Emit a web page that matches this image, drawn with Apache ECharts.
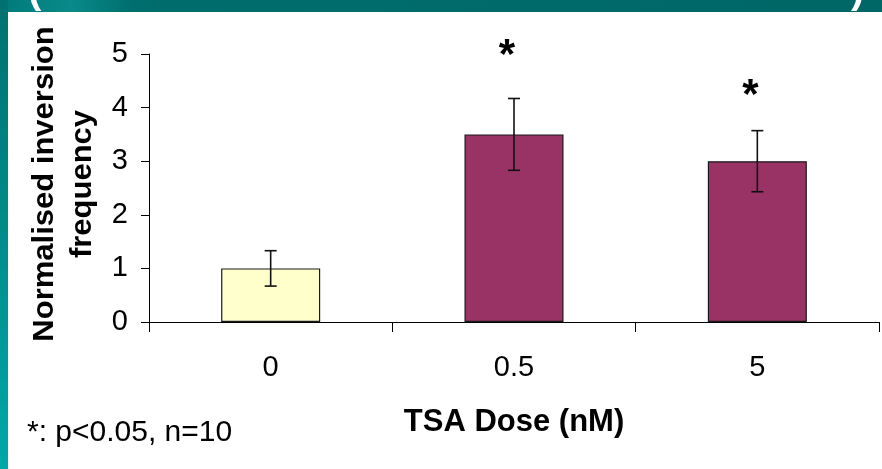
<!DOCTYPE html>
<html>
<head>
<meta charset="utf-8">
<script src="https://cdn.jsdelivr.net/npm/echarts@6/dist/echarts.min.js"></script>
<style>html,body{margin:0;padding:0;background:#fff;}#c{width:882px;height:469px;}</style>
</head>
<body>
<div id="c"></div>
<script>
const categories = ['0', '0.5', '5'];
const means = [1.0, 3.5, 3.0];
const errors = [0.33, 0.67, 0.57];
const sigY = [null, 5.1, 4.35];
const yTicks = [0, 1, 2, 3, 4, 5];
const barColors = ['#FFFFCC', '#993366', '#993366'];

const FONT = '"Liberation Sans", Arial, sans-serif';
const chart = echarts.init(document.getElementById('c'), null, {renderer: 'canvas'});

const errData = means.map((m, i) => [i, m - errors[i], m + errors[i]]);
const sigData = sigY.map((v, i) => [i, v]).filter(d => d[1] != null);

chart.setOption({
  animation: false,
  backgroundColor: '#ffffff',
  graphic: [
    {type: 'rect', z: -10, shape: {x: 0, y: 0, width: 882, height: 12},
     style: {fill: new echarts.graphic.LinearGradient(0, 0, 1, 0, [
       {offset: 0, color: '#007a7a'}, {offset: 0.08, color: '#0a8a8a'}, {offset: 0.15, color: '#006e6e'},
       {offset: 1, color: '#006666'}])}},
    {type: 'rect', z: -10, shape: {x: 0, y: 0, width: 8, height: 469},
     style: {fill: new echarts.graphic.LinearGradient(0, 0, 0, 1, [
       {offset: 0, color: '#007070'}, {offset: 1, color: '#00a8a8'}])}},
    {type: 'text', z: -9, x: 28, y: 12, style: {text: '(', fill: '#ffffff', font: 'bold 40px ' + FONT, textVerticalAlign: 'bottom'}},
    {type: 'text', z: -9, x: 851, y: 12, style: {text: ')', fill: '#ffffff', font: 'bold 40px ' + FONT, textVerticalAlign: 'bottom'}},
    {type: 'rect', z: -8, shape: {x: 8, y: 12, width: 874, height: 457}, style: {fill: '#ffffff'}},
    {type: 'text', x: 64, y: 184, rotation: Math.PI / 2, scaleY: 0.95,
     style: {text: 'Normalised inversion\nfrequency', fill: '#000', font: 'bold 31px ' + FONT,
             lineHeight: 40, textAlign: 'center', textVerticalAlign: 'middle'}},
    {type: 'text', x: 514, y: 422,
     style: {text: 'TSA Dose (nM)', fill: '#000', font: 'bold 31px ' + FONT,
             textAlign: 'center', textVerticalAlign: 'middle'}},
    {type: 'text', x: 27, y: 433,
     style: {text: '*: p<0.05, n=10', fill: '#000', font: '30px ' + FONT,
             textAlign: 'left', textVerticalAlign: 'middle'}}
  ],
  grid: {left: 149, right: 3, top: 54, bottom: 147, containLabel: false},
  xAxis: {
    type: 'category', data: categories, boundaryGap: true,
    axisLine: {lineStyle: {color: '#000', width: 1}},
    axisTick: {show: true, length: 10, lineStyle: {color: '#000'}},
    axisLabel: {color: '#000', fontFamily: FONT, fontSize: 29, margin: 31}
  },
  yAxis: {
    type: 'value', min: 0, max: 5, interval: 1,
    splitLine: {show: false},
    axisLine: {show: true, lineStyle: {color: '#000', width: 1}},
    axisTick: {show: true, length: 8, lineStyle: {color: '#000'}},
    axisLabel: {color: '#000', fontFamily: FONT, fontSize: 29, margin: 21,
                formatter: v => yTicks.includes(v) ? String(v) : ''}
  },
  series: [
    {
      type: 'bar', barWidth: '40.7%',
      data: means.map((v, i) => ({value: v, itemStyle: {color: barColors[i]}})),
      itemStyle: {borderColor: '#1a1a1a', borderWidth: 1.2},
      z: 2
    },
    {
      type: 'custom', data: errData, z: 5,
      renderItem: function (params, api) {
        const x = api.value(0);
        const lo = api.coord([x, api.value(1)]);
        const hi = api.coord([x, api.value(2)]);
        const hw = 6;
        const st = {stroke: '#111', lineWidth: 1.6};
        return {type: 'group', children: [
          {type: 'line', shape: {x1: hi[0], y1: hi[1], x2: lo[0], y2: lo[1]}, style: st},
          {type: 'line', shape: {x1: hi[0] - hw, y1: hi[1], x2: hi[0] + hw, y2: hi[1]}, style: st},
          {type: 'line', shape: {x1: lo[0] - hw, y1: lo[1], x2: lo[0] + hw, y2: lo[1]}, style: st}
        ]};
      }
    },
    {
      type: 'custom', data: sigData, z: 5,
      renderItem: function (params, api) {
        const p = api.coord([api.value(0), api.value(1)]);
        return {type: 'text', x: p[0] - 7, y: p[1] + 8,
                style: {text: '*', fill: '#000', font: 'bold 42px ' + FONT,
                        textAlign: 'center', textVerticalAlign: 'middle'}};
      }
    }
  ]
});
</script>
</body>
</html>
